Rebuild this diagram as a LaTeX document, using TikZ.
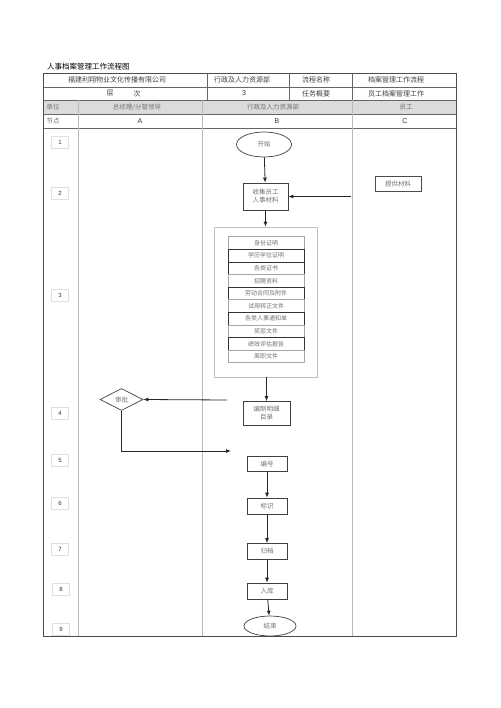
\documentclass[tikz,border=0pt]{standalone}
\usepackage{fontspec}
\setmainfont{Liberation Sans}
\newfontfamily\cjk{Noto Sans CJK SC}
\usetikzlibrary{shapes.geometric,arrows.meta}
\definecolor{txt}{gray}{0.45}
\definecolor{hdr}{gray}{0.86}
\tikzset{
  cell/.style={text=black!75,font=\cjk\fontsize{7}{8}\selectfont,inner sep=0pt},
  gcell/.style={text=txt,font=\cjk\fontsize{6.5}{7}\selectfont,inner sep=0pt},
  lcell/.style={text=black!80,font=\fontsize{7}{8}\selectfont,inner sep=0pt},
  numbox/.style={draw=gray!25,minimum width=17pt,minimum height=12pt,inner sep=0pt,font=\fontsize{6}{7}\selectfont,text=black!80},
  proc/.style={draw=black!75,line width=0.7pt,fill=white,text=txt,font=\cjk\fontsize{6.5}{8}\selectfont,align=center,inner sep=0pt},
  term/.style={ellipse,draw=black!75,line width=0.7pt,fill=white,text=txt,font=\cjk\fontsize{6.5}{8}\selectfont,inner sep=0pt},
  item/.style={draw=gray!70,line width=0.5pt,fill=white,text=txt,font=\cjk\fontsize{6}{7}\selectfont,minimum width=76pt,minimum height=12.6pt,inner sep=0pt},
  ditem/.style={item,draw=black!80,line width=0.8pt},
  conn/.style={draw=black!85,line width=0.8pt,-{Latex[length=5pt,width=4pt]}},
  lane/.style={draw=gray!55,line width=0.5pt}
}
\begin{document}
\begin{tikzpicture}[x=1pt,y=-1pt]
\useasboundingbox (0,0) rectangle (500,708);
% title
\node[anchor=west,font=\cjk\fontsize{7.5}{8}\selectfont,inner sep=0pt] (title) at (47,67) {人事档案管理工作流程图};
% header table
\fill[hdr] (43,100) rectangle (456,114);
\draw[draw=black!70,line width=0.6pt] (43,73) rectangle (456,636);
\foreach \y in {87,100,114,128} \draw[draw=black!60,line width=0.5pt] (43,\y) -- (456,\y);
\foreach \x in {207,289,352} \draw[draw=black!60,line width=0.5pt] (\x,73) -- (\x,100);
\foreach \x in {78,202} \draw[lane] (\x,100) -- (\x,636);
\draw[lane] (352,100) -- (352,636);
% header texts
\node[cell] (h11) at (117,80) {福建利翔物业文化传播有限公司};
\node[cell] (h12) at (242,80) {行政及人力资源部};
\node[cell] (h13) at (316,80) {流程名称};
\node[cell] (h14) at (396,80) {档案管理工作流程};
\node[cell] (h21a) at (110,93.5) {层};
\node[cell] (h21b) at (137,93.5) {次};
\node[lcell] (h22) at (244,93.5) {3};
\node[cell] (h23) at (316,93.5) {任务概要};
\node[cell] (h24) at (396,93.5) {员工档案管理工作};
\node[gcell] (h31) at (53,107) {单位};
\node[gcell] (h32) at (137,107) {总经理/分管领导};
\node[gcell] (h33) at (273,107) {行政及人力资源部};
\node[gcell] (h34) at (406,107) {员工};
\node[gcell] (h41) at (53,121) {节点};
\node[lcell] (h42) at (140,121) {A};
\node[lcell] (h43) at (277,121) {B};
\node[lcell] (h44) at (405,121) {C};
% node numbers
\node[numbox] (n1) at (60,142) {1};
\node[numbox] (n2) at (60,193) {2};
\node[numbox] (n3) at (60,295) {3};
\node[numbox] (n4) at (60,413) {4};
\node[numbox] (n5) at (60,460) {5};
\node[numbox] (n6) at (60,503) {6};
\node[numbox] (n7) at (60,549) {7};
\node[numbox] (n8) at (61,589) {8};
\node[numbox] (n9) at (61,629) {9};
% flow
\node[term,minimum width=55pt,minimum height=25pt] (start) at (264,144.5) {开始};
\node[proc,minimum width=45pt,minimum height=27pt] (collect) at (265.5,196.5) {收集员工\\人事材料};
\node[proc,draw=black!70,line width=0.6pt,minimum width=46pt,minimum height=15pt] (provide) at (398,184) {提供材料};
\node[draw=gray!50,line width=0.6pt,minimum width=103pt,minimum height=150pt,inner sep=0pt] (cont) at (265.5,302) {};
\node[item]  (i1)  at (266,243.0) {身份证明};
\node[ditem] (i2)  at (266,255.6) {学历学位证明};
\node[ditem] (i3)  at (266,268.2) {各类证书};
\node[item]  (i4)  at (266,280.8) {招聘资料};
\node[ditem] (i5)  at (266,293.4) {劳动合同及附件};
\node[item]  (i6)  at (266,306.0) {试用转正文件};
\node[ditem] (i7)  at (266,318.6) {各类人事通知单};
\node[item]  (i8)  at (266,331.2) {奖惩文件};
\node[ditem] (i9)  at (266,343.8) {绩效评估报告};
\node[item]  (i10) at (266,356.4) {离职文件};
\node[proc,minimum width=47pt,minimum height=24pt] (catalog) at (266.5,413.5) {编制明细\\目录};
\node[diamond,aspect=2,draw=black!75,line width=0.7pt,fill=white,text=txt,font=\cjk\fontsize{6.5}{8}\selectfont,minimum width=43pt,minimum height=22pt,inner sep=0pt] (approve) at (121.5,399.5) {审批};
\node[proc,minimum width=40pt,minimum height=15.5pt] (number) at (267,464) {编号};
\node[proc,minimum width=40pt,minimum height=16pt] (mark) at (267,506) {标识};
\node[proc,minimum width=40pt,minimum height=16pt] (file) at (267,551.5) {归档};
\node[proc,minimum width=40pt,minimum height=16pt] (store) at (267,591) {入库};
\node[term,minimum width=52pt,minimum height=20pt] (end) at (270,626) {结束};
% connectors
\coordinate (cin) at (351,196.5);
\coordinate (ain) at (227,400);
\coordinate (bend) at (121.5,451);
\coordinate (aout) at (231,451);
\draw[conn] (start) -- (collect);
\draw[conn] (cin) -- (collect);
\draw[conn] (collect) -- (cont);
\draw[conn] (cont.south -| catalog.north) -- (catalog);
\draw[conn] (ain) -- (approve.east);
\draw[conn] (approve.south) -- (bend) -- (aout);
\draw[conn] (number.south) -- (mark.north);
\draw[conn] (mark) -- (file);
\draw[conn] (file) -- (store);
\draw[conn] (store) -- (end);
\end{tikzpicture}
\end{document}
